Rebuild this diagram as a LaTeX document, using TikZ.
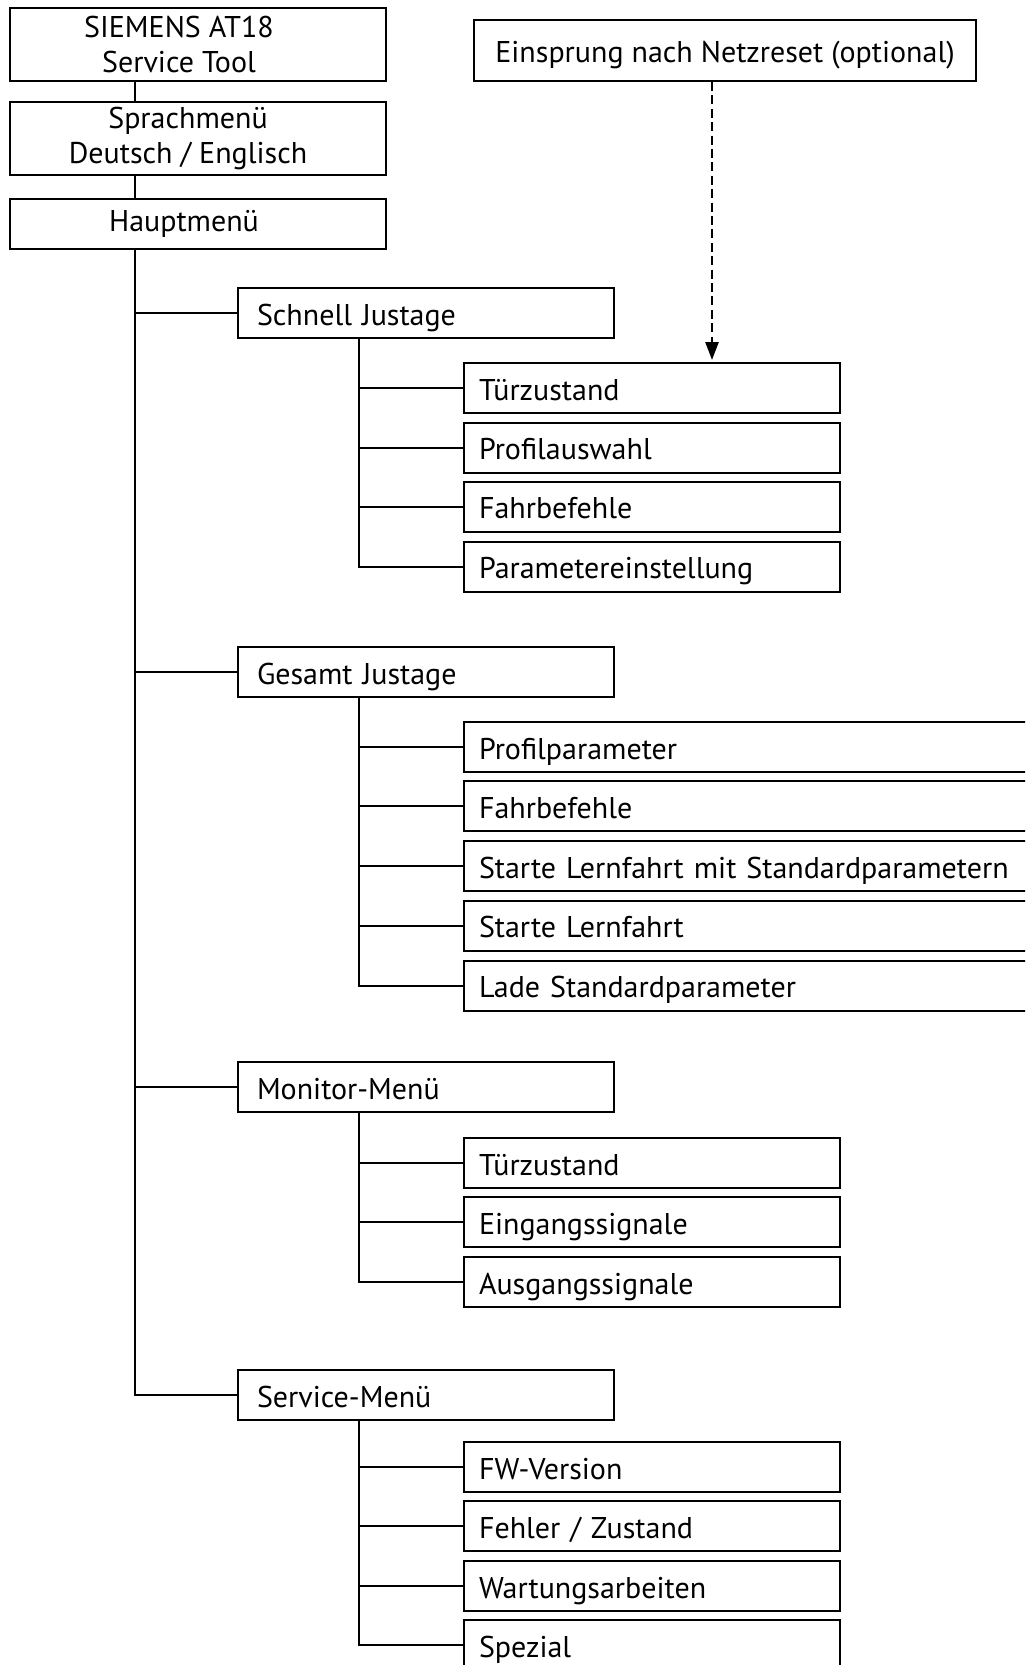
\documentclass[tikz,border=0pt]{standalone}
\usepackage{fontspec}
\setmainfont{PT Sans}
\usetikzlibrary{arrows.meta}
\tikzset{
  frame/.style={draw, line width=1pt},
  headbox/.style={frame, minimum width=188pt, minimum height=36.5pt},
  mainbox/.style={frame, minimum width=188pt, minimum height=25pt},
  headtext/.style={align=center, inner sep=0pt},
  menubox/.style={frame, anchor=west, minimum height=25pt, inner xsep=9.5pt,
    text width=169pt, align=left, text height=12pt, text depth=0pt},
  itembox/.style={frame, anchor=west, minimum height=25pt, inner xsep=7.5pt,
    text width=173pt, align=left, text height=12pt, text depth=0pt},
  widebox/.style={itembox, text width=285pt},
  link/.style={line width=1pt},
}
\begin{document}
\begin{tikzpicture}[x=0.5pt, y=-0.5pt, font=\fontsize{15}{17.5}\selectfont]
\useasboundingbox (0,0) rectangle (1025,1665);
\clip (0,0) rectangle (1025,1665);

% head of the menu tree
\node[headbox] (tool) at (198,44.5) {};
\node[headtext] (tooltext) at ([xshift=-9.5pt]tool.center) {SIEMENS AT18\\Service Tool};
\node[headbox] (lang) at (198,138.5) {};
\node[headtext] (langtext) at ([xshift=-5pt]lang.center) {Sprachmenü\\Deutsch / Englisch};
\node[mainbox] (main) at (198,224) {};
\node[headtext] (maintext) at ([xshift=-7pt]main.center) {Hauptmenü};

\node[frame, minimum width=251pt, minimum height=30.5pt, text height=12pt, text depth=0pt]
  (reset) at (725,50.5) {Einsprung nach Netzreset (optional)};

% second level
\node[menubox] (quick) at (237,313) {Schnell Justage};
\node[menubox] (full) at (237,672) {Gesamt Justage};
\node[menubox] (monitor) at (237,1087) {Monitor-Menü};
\node[menubox] (service) at (237,1395) {Service-Menü};

% third level
\node[itembox] (q1) at (463,388) {Türzustand};
\node[itembox] (q2) at (463,447.5) {Profilauswahl};
\node[itembox] (q3) at (463,506.5) {Fahrbefehle};
\node[itembox] (q4) at (463,566.5) {Parametereinstellung};

\node[widebox] (f1) at (463,747) {Profilparameter};
\node[widebox] (f2) at (463,806) {Fahrbefehle};
\node[widebox] (f3) at (463,866) {Starte Lernfahrt mit Standardparametern};
\node[widebox] (f4) at (463,925.5) {Starte Lernfahrt};
\node[widebox] (f5) at (463,985.5) {Lade Standardparameter};

\node[itembox] (m1) at (463,1163) {Türzustand};
\node[itembox] (m2) at (463,1222) {Eingangssignale};
\node[itembox] (m3) at (463,1282) {Ausgangssignale};

\node[itembox] (s1) at (463,1467) {FW-Version};
\node[itembox] (s2) at (463,1526) {Fehler / Zustand};
\node[itembox] (s3) at (463,1586) {Wartungsarbeiten};
\node[itembox] (s4) at (463,1645) {Spezial};

% connectors
\coordinate (trunk) at (135,0);
\coordinate (qstem) at ([xshift=61pt]quick.south west);
\coordinate (fstem) at ([xshift=61pt]full.south west);
\coordinate (mstem) at ([xshift=61pt]monitor.south west);
\coordinate (sstem) at ([xshift=61pt]service.south west);
\coordinate (entry) at (712,0);

\draw[link] (tool.south -| trunk) -- (lang.north -| trunk);
\draw[link] (lang.south -| trunk) -- (main.north -| trunk);
\draw[link] (main.south -| trunk) |- (service.west);
\draw[link] (trunk |- quick.west) -- (quick.west);
\draw[link] (trunk |- full.west) -- (full.west);
\draw[link] (trunk |- monitor.west) -- (monitor.west);

\draw[link] (qstem) |- (q1.west) (qstem) |- (q2.west) (qstem) |- (q3.west) (qstem) |- (q4.west);
\draw[link] (fstem) |- (f1.west) (fstem) |- (f2.west) (fstem) |- (f3.west) (fstem) |- (f4.west)
  (fstem) |- (f5.west);
\draw[link] (mstem) |- (m1.west) (mstem) |- (m2.west) (mstem) |- (m3.west);
\draw[link] (sstem) |- (s1.west) (sstem) |- (s2.west) (sstem) |- (s3.west) (sstem) |- (s4.west);

\draw[link, line width=1.3pt, dash pattern=on 4.5pt off 2.2pt, -{Triangle[length=9pt, width=6.5pt]}]
  (reset.south -| entry) -- ([yshift=1pt]q1.north -| entry);
\end{tikzpicture}
\end{document}
